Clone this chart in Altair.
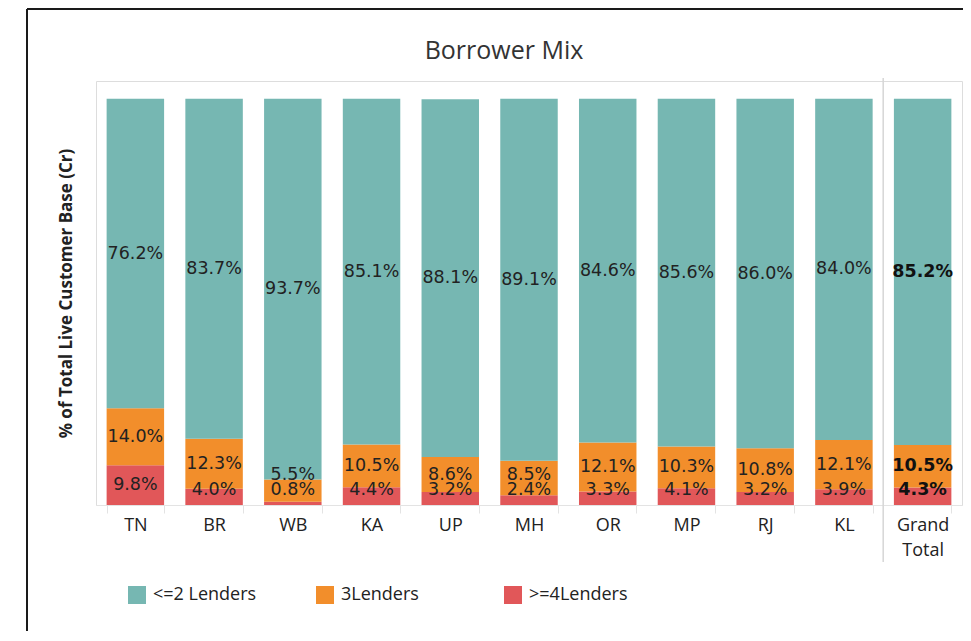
import altair as alt
import pandas as pd

# ---- data ----
states = ["TN", "BR", "WB", "KA", "UP", "MH", "OR", "MP", "RJ", "KL", "Grand Total"]
le2_lenders = [76.2, 83.7, 93.7, 85.1, 88.1, 89.1, 84.6, 85.6, 86.0, 84.0, 85.2]
three_lenders = [14.0, 12.3, 5.5, 10.5, 8.6, 8.5, 12.1, 10.3, 10.8, 12.1, 10.5]
ge4_lenders = [9.8, 4.0, 0.8, 4.4, 3.2, 2.4, 3.3, 4.1, 3.2, 3.9, 4.3]
series = ["<=2 Lenders", "3Lenders", ">=4Lenders"]
colors = ["#76B7B2", "#F28E2B", "#E15759"]

rows = []
for i, s in enumerate(states):
    r0, r1 = 0.0, ge4_lenders[i]
    o0, o1 = r1, r1 + three_lenders[i]
    t0, t1 = o1, o1 + le2_lenders[i]
    red_lab = max((r0 + r1) / 2, 3.6)
    org_lab = max((o0 + o1) / 2, red_lab + 3.9)
    teal_lab = (t0 + t1) / 2
    rows.append(dict(state=s, series=series[2], y0=r0, y1=r1, ly=red_lab, value=ge4_lenders[i]))
    rows.append(dict(state=s, series=series[1], y0=o0, y1=o1, ly=org_lab, value=three_lenders[i]))
    rows.append(dict(state=s, series=series[0], y0=t0, y1=t1, ly=teal_lab, value=le2_lenders[i]))
df = pd.DataFrame(rows)
df["label"] = df["value"].map(lambda v: f"{v:.1f}%")
df["is_total"] = df["state"] == "Grand Total"

W, H = 866, 424
FONT = "Open Sans"

xscale = alt.Scale(domain=states, paddingInner=0.27, paddingOuter=0.135)
yscale = alt.Scale(domain=[0, 104.4], nice=False, zero=True)

x_axis = alt.Axis(
    title=None, labelAngle=0, labelFont=FONT, labelFontSize=18, labelColor="#222222",
    labelPadding=3, labelBaseline="top", labelLineHeight=25,
    labelExpr="split(datum.label, ' ')",
    domainColor="#e3e3e3", tickColor="#e3e3e3", tickBand="extent", tickSize=8, grid=False,
)
y_axis = alt.Axis(
    title="% of Total Live Customer Base (Cr)", labels=False, ticks=False, domain=False,
    grid=False, titleFont=FONT, titleFontSize=17, titleFontWeight="bold",
    titleColor="#222222", titlePadding=21,
)

base = alt.Chart(df)

bars = base.mark_bar().encode(
    x=alt.X("state:N", scale=xscale, axis=x_axis),
    y=alt.Y("y0:Q", scale=yscale, axis=y_axis),
    y2="y1:Q",
    color=alt.Color(
        "series:N",
        scale=alt.Scale(domain=series, range=colors),
        legend=alt.Legend(
            title=None, orient="none", legendX=32, legendY=505, direction="horizontal",
            symbolType="square", symbolSize=324, symbolStrokeWidth=0, symbolOpacity=1,
            labelFont=FONT, labelFontSize=18, labelColor="#222222", labelOffset=7,
            gridAlign="all", columnPadding=59,
        ),
    ),
)

labels = base.transform_filter("!datum.is_total").mark_text(
    font="DejaVu Sans", fontSize=17.5, color="#222222", baseline="middle"
).encode(
    x=alt.X("state:N", scale=xscale),
    y=alt.Y("ly:Q", scale=yscale),
    text="label:N",
)
labels_total = base.transform_filter("datum.is_total").mark_text(
    font="DejaVu Sans", fontSize=17.5, fontWeight="bold", color="#111111", baseline="middle"
).encode(
    x=alt.X("state:N", scale=xscale),
    y=alt.Y("ly:Q", scale=yscale),
    text="label:N",
)

sep = alt.Chart(pd.DataFrame({"state": ["Grand Total"]})).mark_rule(
    color="#d6d6d6", strokeWidth=1.5, xOffset=-10.7
).encode(
    x=alt.X("state:N", scale=xscale, bandPosition=0),
    y=alt.value(-3),
    y2=alt.value(H + 57),
)

frame_left = alt.Chart(pd.DataFrame({"k": [0]})).mark_rule(color="#1a1a1a", strokeWidth=2).encode(
    x=alt.value(-69), y=alt.value(-72), y2=alt.value(H + 140)
)
frame_top = alt.Chart(pd.DataFrame({"k": [0]})).mark_rule(color="#1a1a1a", strokeWidth=2).encode(
    x=alt.value(-69), x2=alt.value(W + 20), y=alt.value(-72)
)

chart = alt.layer(bars, labels, labels_total, sep, frame_left, frame_top).properties(
    width=W, height=H,
    title=alt.TitleParams(
        "Borrower Mix", font=FONT, fontSize=25, fontWeight="normal", color="#333333",
        anchor="middle", dx=-25, offset=-56,
    ),
    autosize=alt.AutoSizeParams(type="none"),
    padding={"left": 88, "top": 73, "right": 1, "bottom": 126},
).configure_view(stroke="#e8e8e8").configure(background="white")

chart.save("out.html", embed_options={"renderer": "svg", "actions": False})
